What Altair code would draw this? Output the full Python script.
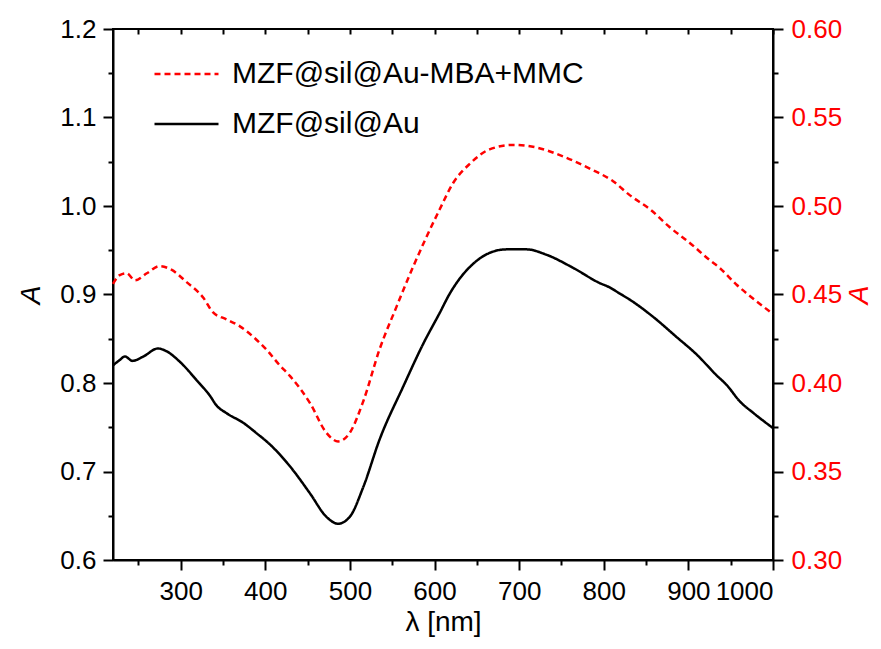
import altair as alt
import pandas as pd

# ---- data ----
lam_au = [220, 228, 234, 243, 256, 273, 283, 299, 319, 335, 342, 354, 374, 390,
          405, 429, 453, 472, 486, 500, 516, 535, 563, 587, 606, 618, 626, 646,
          665, 685, 709, 732, 764, 795, 807, 819, 831, 858, 886, 910, 933, 945,
          961, 977, 1000]
a_au = [0.820, 0.826, 0.830, 0.825, 0.830, 0.839, 0.836, 0.824, 0.803, 0.785,
        0.775, 0.766, 0.755, 0.743, 0.731, 0.706, 0.675, 0.649, 0.641, 0.649,
        0.683, 0.736, 0.796, 0.845, 0.879, 0.901, 0.913, 0.935, 0.947, 0.951,
        0.951, 0.945, 0.930, 0.913, 0.908, 0.901, 0.894, 0.875, 0.852, 0.832,
        0.809, 0.798, 0.779, 0.766, 0.749]

lam_mba = [220, 228, 236, 246, 260, 275, 289, 307, 327, 338, 354, 370, 386, 403,
           417, 429, 453, 472, 486, 500, 516, 535, 555, 575, 589, 606, 622, 642,
           665, 693, 721, 752, 784, 811, 831, 855, 878, 902, 925, 937, 957, 981,
           1000]
a_mba = [0.456, 0.461, 0.462, 0.458, 0.462, 0.466, 0.464, 0.457, 0.448, 0.440,
         0.436, 0.432, 0.426, 0.418, 0.410, 0.404, 0.3885, 0.372, 0.367, 0.372,
         0.390, 0.419, 0.443, 0.466, 0.481, 0.498, 0.513, 0.524, 0.532, 0.5345,
         0.533, 0.528, 0.521, 0.514, 0.506, 0.498, 0.488, 0.479, 0.4695, 0.465,
         0.4555, 0.446, 0.439]

s_au = "MZF@sil@Au"
s_mba = "MZF@sil@Au-MBA+MMC"

# tick values (major and minor together)
x_ticks = [250, 300, 350, 400, 450, 500, 550, 600, 650, 700, 750, 800, 850,
           900, 950, 1000]
yl_ticks = [0.6, 0.65, 0.7, 0.75, 0.8, 0.85, 0.9, 0.95, 1.0, 1.05, 1.1, 1.15, 1.2]
yr_ticks = [0.30, 0.325, 0.35, 0.375, 0.40, 0.425, 0.45, 0.475, 0.50, 0.525,
            0.55, 0.575, 0.60]

df_au = pd.DataFrame({"lam": lam_au, "A": a_au, "series": s_au})
df_mba = pd.DataFrame({"lam": lam_mba, "A": a_mba, "series": s_mba})

FONT = "Liberation Sans"
RED = "#ff0000"

xscale = alt.Scale(domain=[220, 1000], nice=False, zero=False)
yl_scale = alt.Scale(domain=[0.6, 1.2], nice=False, zero=False)
yr_scale = alt.Scale(domain=[0.3, 0.6], nice=False, zero=False)

# minor-tick tests
x_minor = "datum.value % 100 != 0"
yl_minor = "abs(datum.value * 10 - round(datum.value * 10)) > 0.01"
yr_minor = "abs(datum.value * 20 - round(datum.value * 20)) > 0.01"


def tsize(test, minor=5, major=10):
    return {"condition": {"test": test, "value": minor}, "value": major}


def lexpr(test):
    return f"({test}) ? '' : datum.label"


legend_kw = dict(
    title=None, orient="none", legendX=40, legendY=32,
    symbolType="stroke", symbolSize=4096, symbolStrokeWidth=2.5,
    labelFont=FONT, labelFontSize=30, labelColor="black", labelLimit=800,
    labelOffset=12, clipHeight=26, rowPadding=20,
)
color = alt.Color("series:N",
                  scale=alt.Scale(domain=[s_mba, s_au], range=[RED, "black"]),
                  legend=alt.Legend(**legend_kw))
dash = alt.StrokeDash("series:N",
                      scale=alt.Scale(domain=[s_mba, s_au], range=[[6, 4], [1, 0]]),
                      legend=alt.Legend(**legend_kw))

black = alt.Chart(df_au).mark_line(strokeWidth=2.5, interpolate="monotone").encode(
    x=alt.X("lam:Q", scale=xscale,
            axis=alt.Axis(orient="bottom", values=x_ticks, format="d",
                          tickSize=tsize(x_minor), labelExpr=lexpr(x_minor),
                          labelPadding=8, title="λ [nm]", titlePadding=4)),
    y=alt.Y("A:Q", scale=yl_scale,
            axis=alt.Axis(orient="left", values=yl_ticks, format=".1f",
                          tickSize=tsize(yl_minor), labelExpr=lexpr(yl_minor),
                          labelPadding=7, title="A", titleFontStyle="italic",
                          titlePadding=14)),
    color=color, strokeDash=dash,
)

red = alt.Chart(df_mba).mark_line(strokeWidth=2.5, interpolate="monotone").encode(
    x=alt.X("lam:Q", scale=xscale, axis=None),
    y=alt.Y("A:Q", scale=yr_scale,
            axis=alt.Axis(orient="right", values=yr_ticks, format=".2f",
                          tickSize=tsize(yr_minor), labelExpr=lexpr(yr_minor),
                          labelPadding=8, labelColor=RED, title="A",
                          titleColor=RED, titleFontStyle="italic", titlePadding=4,
                          titleAngle=270, titleBaseline="top")),
    color=color, strokeDash=dash,
)

# inward ticks along the top edge of the frame
top = alt.Chart(df_au).mark_line(opacity=0).encode(
    x=alt.X("lam:Q", scale=xscale,
            axis=alt.Axis(orient="top", values=x_ticks, tickSize=5, offset=-5,
                          labels=False, domain=False, title=None)),
    y=alt.Y("A:Q", scale=yl_scale, axis=None),
)

chart = (
    alt.layer(black, red, top)
    .resolve_scale(y="independent")
    .resolve_axis(x="independent", y="independent")
    .properties(
        width=660, height=531,
        autosize=alt.AutoSizeParams(type="none"),
        padding={"left": 105, "top": 21, "right": 100, "bottom": 80},
        background="white",
    )
    .configure_view(stroke="black", strokeWidth=2)
    .configure_axis(
        grid=False, domainColor="black", domainWidth=2, tickColor="black",
        tickWidth=2, labelFont=FONT, labelFontSize=26, labelColor="black",
        titleFont=FONT, titleFontSize=28, titleFontWeight="normal",
        titleColor="black",
    )
)

chart.save("out.html", embed_options={"renderer": "svg", "actions": False})
